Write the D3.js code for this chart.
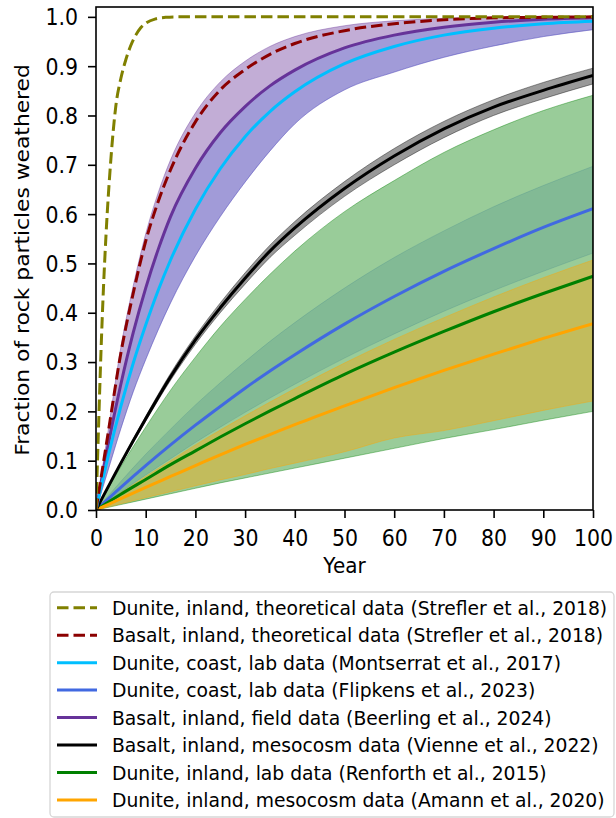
<!DOCTYPE html>
<html>
<head>
<meta charset="utf-8">
<script src="https://cdn.jsdelivr.net/npm/d3@7"></script>
<style>
  body { margin: 0; background: #fff; }
  svg { display: block; }
  text { font-family: "DejaVu Sans", sans-serif; fill: #000; }
</style>
</head>
<body>
<svg id="chart" width="616" height="818"></svg>
<script>
// ---- data: fraction of rock particles weathered over time ----
const yearsOlive = [0, 0.5, 1, 1.5, 2, 3, 4, 5, 6, 7, 8, 9, 10, 12, 14, 16, 20, 30, 50, 100];
const duniteTheory = [0, 0.165, 0.32, 0.45, 0.555, 0.712, 0.82, 0.875, 0.913, 0.942, 0.963, 0.978, 0.987, 0.996, 0.999, 1, 1, 1, 1, 1];

const yearsFast = [0, 2.5, 5, 7.5, 10, 12.5, 15, 20, 25, 30, 35, 40, 50, 60, 70, 80, 90, 100];
const basaltTheory = [0, 0.16, 0.318, 0.44, 0.545, 0.625, 0.69, 0.787, 0.852, 0.893, 0.924, 0.946, 0.972, 0.986, 0.994, 0.998, 0.999, 1.0];
const basaltField = [0, 0.135, 0.255, 0.36, 0.45, 0.528, 0.595, 0.693, 0.765, 0.818, 0.86, 0.892, 0.937, 0.963, 0.979, 0.989, 0.995, 0.998];
const basaltFieldHigh = [0, 0.165, 0.33, 0.455, 0.56, 0.643, 0.71, 0.805, 0.868, 0.91, 0.94, 0.96, 0.982, 0.992, 0.997, 0.999, 1.0, 1.0];
const basaltFieldLow = [0, 0.083, 0.165, 0.24, 0.305, 0.365, 0.42, 0.515, 0.595, 0.665, 0.728, 0.783, 0.852, 0.888, 0.918, 0.941, 0.96, 0.974];
const duniteCoastMontserrat = [0, 0.111, 0.21, 0.298, 0.375, 0.445, 0.507, 0.61, 0.692, 0.757, 0.808, 0.848, 0.905, 0.94, 0.963, 0.977, 0.986, 0.991];

const yearsSlow = [0, 5, 10, 15, 20, 25, 30, 35, 40, 50, 60, 70, 80, 90, 100];
const basaltMeso = [0, 0.095, 0.185, 0.27, 0.345, 0.41, 0.47, 0.525, 0.572, 0.652, 0.718, 0.773, 0.817, 0.851, 0.881];
const basaltMesoHigh = [0, 0.097, 0.19, 0.277, 0.353, 0.42, 0.481, 0.537, 0.585, 0.666, 0.733, 0.788, 0.832, 0.867, 0.896];
const basaltMesoLow = [0, 0.092, 0.18, 0.263, 0.336, 0.4, 0.458, 0.512, 0.557, 0.636, 0.7, 0.755, 0.8, 0.834, 0.864];
const duniteCoastFlipkens = [0, 0.046, 0.09, 0.132, 0.172, 0.21, 0.247, 0.282, 0.315, 0.377, 0.433, 0.484, 0.53, 0.573, 0.611];
const duniteCoastFlipkensHigh = [0, 0.058, 0.113, 0.164, 0.213, 0.258, 0.301, 0.342, 0.38, 0.45, 0.512, 0.566, 0.615, 0.658, 0.697];
const duniteCoastFlipkensLow = [0, 0.036, 0.071, 0.104, 0.137, 0.168, 0.198, 0.227, 0.255, 0.308, 0.357, 0.403, 0.445, 0.484, 0.521];
const duniteLab = [0, 0.032, 0.062, 0.092, 0.12, 0.148, 0.175, 0.201, 0.226, 0.275, 0.32, 0.362, 0.402, 0.439, 0.474];
const duniteLabHigh = [0, 0.088, 0.168, 0.243, 0.31, 0.372, 0.427, 0.478, 0.525, 0.605, 0.668, 0.725, 0.771, 0.81, 0.841];
const duniteLabLow = [0, 0.011, 0.022, 0.033, 0.044, 0.055, 0.065, 0.075, 0.085, 0.105, 0.125, 0.145, 0.163, 0.182, 0.2];
const duniteMeso = [0, 0.023, 0.046, 0.068, 0.09, 0.112, 0.133, 0.153, 0.173, 0.211, 0.248, 0.283, 0.316, 0.348, 0.378];
const duniteMesoHigh = [0, 0.035, 0.068, 0.1, 0.132, 0.162, 0.191, 0.219, 0.246, 0.298, 0.346, 0.39, 0.432, 0.471, 0.507];
const duniteMesoLow = [0, 0.0125, 0.025, 0.037, 0.049, 0.061, 0.072, 0.084, 0.095, 0.118, 0.146, 0.161, 0.181, 0.202, 0.221];

const xTicks = [0, 10, 20, 30, 40, 50, 60, 70, 80, 90, 100];
const yTicks = [0, 0.1, 0.2, 0.3, 0.4, 0.5, 0.6, 0.7, 0.8, 0.9, 1.0];

const seriesLabels = [
  "Dunite, inland, theoretical data (Strefler et al., 2018)",
  "Basalt, inland, theoretical data (Strefler et al., 2018)",
  "Dunite, coast, lab data (Montserrat et al., 2017)",
  "Dunite, coast, lab data (Flipkens et al., 2023)",
  "Basalt, inland, field data (Beerling et al., 2024)",
  "Basalt, inland, mesocosm data (Vienne et al., 2022)",
  "Dunite, inland, lab data (Renforth et al., 2015)",
  "Dunite, inland, mesocosm data (Amann et al., 2020)"
];
const seriesColors = ["olive", "darkred", "deepskyblue", "royalblue", "rebeccapurple", "black", "green", "orange"];
const seriesDashed = [true, true, false, false, false, false, false, false];

// ---- layout ----
const svg = d3.select("#chart");
const plotLeft = 96, plotRight = 593, plotTop = 7, plotBottom = 510;
const textStretch = 1.08; // glyphs are a little taller than wide
const x = d3.scaleLinear().domain([0, 100]).range([plotLeft, plotRight]);
const y = d3.scaleLinear().domain([0, 1.02]).range([plotBottom, plotTop]);

svg.append("defs").append("clipPath").attr("id", "plotClip")
  .append("rect").attr("x", plotLeft).attr("y", plotTop)
  .attr("width", plotRight - plotLeft).attr("height", plotBottom - plotTop);

const plot = svg.append("g").attr("clip-path", "url(#plotClip)");

const zip = (xs, ys) => xs.map((t, i) => [t, ys[i]]);
const line = d3.line().x(d => x(d[0])).y(d => y(d[1])).curve(d3.curveMonotoneX);
const area = d3.area().x(d => x(d[0])).y0(d => y(d[1])).y1(d => y(d[2])).curve(d3.curveMonotoneX);

function band(xs, lo, hi, color, alpha) {
  const pts = xs.map((t, i) => [t, lo[i], hi[i]]);
  plot.append("path").attr("d", area(pts))
    .attr("fill", color).attr("fill-opacity", alpha)
    .attr("stroke", color).attr("stroke-opacity", alpha).attr("stroke-width", 1);
}

// uncertainty bands
band(yearsSlow, duniteCoastFlipkensLow, duniteCoastFlipkensHigh, "royalblue", 0.2);
band(yearsSlow, duniteLabLow, duniteLabHigh, "green", 0.4);
band(yearsSlow, duniteMesoLow, duniteMesoHigh, "orange", 0.4);
band(yearsSlow, basaltMesoLow, basaltMesoHigh, "black", 0.4);
band(yearsFast, basaltFieldLow, basaltFieldHigh, "rebeccapurple", 0.4);
band(yearsFast, basaltFieldLow, basaltField, "royalblue", 0.25);

// central curves
const curves = [
  [yearsOlive, duniteTheory],
  [yearsFast, basaltTheory],
  [yearsFast, duniteCoastMontserrat],
  [yearsSlow, duniteCoastFlipkens],
  [yearsFast, basaltField],
  [yearsSlow, basaltMeso],
  [yearsSlow, duniteLab],
  [yearsSlow, duniteMeso]
];
const drawOrder = [3, 6, 7, 5, 4, 2, 1, 0];
drawOrder.forEach(i => {
  plot.append("path").attr("d", line(zip(curves[i][0], curves[i][1])))
    .attr("fill", "none").attr("stroke", seriesColors[i]).attr("stroke-width", 3)
    .attr("stroke-dasharray", seriesDashed[i] ? "11.5,5" : null);
});

// ---- axes ----
const xAxis = d3.axisBottom(x).tickValues(xTicks).tickSize(8).tickFormat(d3.format("d"));
const yAxis = d3.axisLeft(y).tickValues(yTicks).tickSize(8).tickFormat(d3.format(".1f"));

const gx = svg.append("g").attr("transform", `translate(0,${plotBottom})`).call(xAxis);
const gy = svg.append("g").attr("transform", `translate(${plotLeft},0)`).call(yAxis);
[gx, gy].forEach(g => {
  g.select(".domain").remove();
  g.selectAll(".tick line").attr("stroke", "#000").attr("stroke-width", 1.6);
  g.selectAll(".tick text").attr("font-size", 20.5).attr("fill", "#000")
    .attr("x", null).attr("y", null).attr("dy", null)
    .style("font-family", "'DejaVu Sans', sans-serif");
});
gx.selectAll(".tick text").attr("transform", `translate(0,35.5) scale(1,${textStretch})`);
gy.selectAll(".tick text").attr("transform", `translate(-18,7.9) scale(1,${textStretch})`);

// frame
svg.append("rect").attr("x", plotLeft).attr("y", plotTop)
  .attr("width", plotRight - plotLeft).attr("height", plotBottom - plotTop)
  .attr("fill", "none").attr("stroke", "#000").attr("stroke-width", 1.6);

svg.append("text")
  .attr("transform", `translate(${(plotLeft + plotRight) / 2},573) scale(1,${textStretch})`)
  .attr("text-anchor", "middle").attr("font-size", 20).text("Year");
svg.append("text")
  .attr("transform", `translate(29,260) rotate(-90) scale(1.09,1)`)
  .attr("text-anchor", "middle").attr("font-size", 20).text("Fraction of rock particles weathered");

// ---- legend ----
const legend = svg.append("g");
legend.append("rect").attr("x", 50).attr("y", 592).attr("width", 564).attr("height", 225).attr("rx", 4)
  .attr("fill", "#fff").attr("fill-opacity", 0.8).attr("stroke", "#d6d6d6").attr("stroke-width", 1.3);
seriesLabels.forEach((lab, i) => {
  const cy = 607.7 + i * 27.47;
  legend.append("line").attr("x1", 57).attr("x2", 97).attr("y1", cy).attr("y2", cy)
    .attr("stroke", seriesColors[i]).attr("stroke-width", 3)
    .attr("stroke-dasharray", seriesDashed[i] ? "11.5,5" : null);
  legend.append("text")
    .attr("transform", `translate(112,${cy + 7.3}) scale(1,1.06)`)
    .attr("font-size", 18.75).text(lab);
});
</script>
</body>
</html>
